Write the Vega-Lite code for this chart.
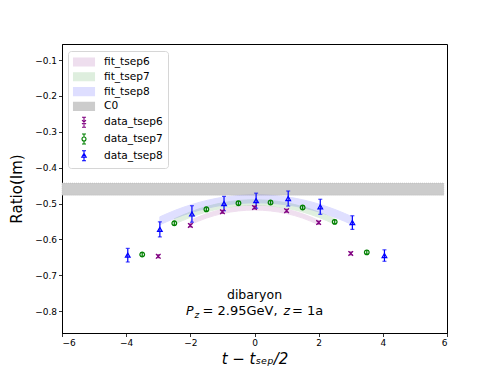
{
  "$schema": "https://vega.github.io/schema/vega-lite/v6.json",
  "width": 385,
  "height": 289,
  "autosize": "none",
  "padding": {"left": 62, "top": 44, "right": 51, "bottom": 41},
  "background": "white",
  "config": {
    "view": {"stroke": "black", "strokeWidth": 1},
    "font": "DejaVu Sans",
    "axis": {
      "domainColor": "black", "tickColor": "black", "labelColor": "black", "titleColor": "black",
      "grid": false, "labelFont": "DejaVu Sans", "titleFont": "DejaVu Sans",
      "labelFontSize": 9, "titleFontSize": 15, "titleFontWeight": "normal",
      "tickSize": 3.5, "domainWidth": 1, "tickWidth": 0.8, "labelPadding": 2
    }
  },
  "datasets": {
    "fits": [
      {"series": "fit_tsep6", "t": -2.0, "lo": -0.559, "hi": -0.547},
      {"series": "fit_tsep6", "t": -1.5, "lo": -0.5405, "hi": -0.5285},
      {"series": "fit_tsep6", "t": -1.0, "lo": -0.528, "hi": -0.516},
      {"series": "fit_tsep6", "t": -0.5, "lo": -0.5205, "hi": -0.5085},
      {"series": "fit_tsep6", "t": 0.0, "lo": -0.518, "hi": -0.506},
      {"series": "fit_tsep6", "t": 0.5, "lo": -0.5205, "hi": -0.5085},
      {"series": "fit_tsep6", "t": 1.0, "lo": -0.528, "hi": -0.516},
      {"series": "fit_tsep6", "t": 1.5, "lo": -0.5405, "hi": -0.5285},
      {"series": "fit_tsep6", "t": 2.0, "lo": -0.559, "hi": -0.547},
      {"series": "fit_tsep7", "t": -2.5, "lo": -0.5575, "hi": -0.5425},
      {"series": "fit_tsep7", "t": -2.0, "lo": -0.5385, "hi": -0.5235},
      {"series": "fit_tsep7", "t": -1.5, "lo": -0.5235, "hi": -0.5085},
      {"series": "fit_tsep7", "t": -1.0, "lo": -0.513, "hi": -0.498},
      {"series": "fit_tsep7", "t": -0.5, "lo": -0.5065, "hi": -0.4915},
      {"series": "fit_tsep7", "t": 0.0, "lo": -0.5045, "hi": -0.4895},
      {"series": "fit_tsep7", "t": 0.5, "lo": -0.5065, "hi": -0.4915},
      {"series": "fit_tsep7", "t": 1.0, "lo": -0.513, "hi": -0.498},
      {"series": "fit_tsep7", "t": 1.5, "lo": -0.5235, "hi": -0.5085},
      {"series": "fit_tsep7", "t": 2.0, "lo": -0.5385, "hi": -0.5235},
      {"series": "fit_tsep7", "t": 2.5, "lo": -0.5575, "hi": -0.5425},
      {"series": "fit_tsep8", "t": -2.95, "lo": -0.559, "hi": -0.537},
      {"series": "fit_tsep8", "t": -2.45, "lo": -0.540, "hi": -0.518},
      {"series": "fit_tsep8", "t": -1.95, "lo": -0.5246, "hi": -0.5026},
      {"series": "fit_tsep8", "t": -1.45, "lo": -0.5125, "hi": -0.4905},
      {"series": "fit_tsep8", "t": -0.95, "lo": -0.504, "hi": -0.482},
      {"series": "fit_tsep8", "t": -0.45, "lo": -0.4995, "hi": -0.4775},
      {"series": "fit_tsep8", "t": 0.05, "lo": -0.498, "hi": -0.476},
      {"series": "fit_tsep8", "t": 0.55, "lo": -0.4995, "hi": -0.4775},
      {"series": "fit_tsep8", "t": 1.05, "lo": -0.504, "hi": -0.482},
      {"series": "fit_tsep8", "t": 1.55, "lo": -0.5125, "hi": -0.4905},
      {"series": "fit_tsep8", "t": 2.05, "lo": -0.5246, "hi": -0.5026},
      {"series": "fit_tsep8", "t": 2.55, "lo": -0.540, "hi": -0.518},
      {"series": "fit_tsep8", "t": 3.05, "lo": -0.559, "hi": -0.537}
    ],
    "points": [
      {"series": "data_tsep6", "t": -3, "y": -0.647, "lo": -0.651, "hi": -0.643},
      {"series": "data_tsep6", "t": -2, "y": -0.561, "lo": -0.565, "hi": -0.557},
      {"series": "data_tsep6", "t": -1, "y": -0.523, "lo": -0.527, "hi": -0.519},
      {"series": "data_tsep6", "t": 0, "y": -0.511, "lo": -0.515, "hi": -0.507},
      {"series": "data_tsep6", "t": 1, "y": -0.520, "lo": -0.524, "hi": -0.516},
      {"series": "data_tsep6", "t": 2, "y": -0.553, "lo": -0.557, "hi": -0.549},
      {"series": "data_tsep6", "t": 3, "y": -0.639, "lo": -0.643, "hi": -0.635},
      {"series": "data_tsep7", "t": -3.5, "y": -0.642, "lo": -0.647, "hi": -0.637},
      {"series": "data_tsep7", "t": -2.5, "y": -0.555, "lo": -0.560, "hi": -0.550},
      {"series": "data_tsep7", "t": -1.5, "y": -0.516, "lo": -0.521, "hi": -0.511},
      {"series": "data_tsep7", "t": -0.5, "y": -0.499, "lo": -0.504, "hi": -0.494},
      {"series": "data_tsep7", "t": 0.5, "y": -0.497, "lo": -0.502, "hi": -0.492},
      {"series": "data_tsep7", "t": 1.5, "y": -0.511, "lo": -0.516, "hi": -0.506},
      {"series": "data_tsep7", "t": 2.5, "y": -0.551, "lo": -0.556, "hi": -0.546},
      {"series": "data_tsep7", "t": 3.5, "y": -0.636, "lo": -0.641, "hi": -0.631},
      {"series": "data_tsep8", "t": -3.95, "y": -0.644, "lo": -0.663, "hi": -0.625},
      {"series": "data_tsep8", "t": -2.95, "y": -0.572, "lo": -0.593, "hi": -0.551},
      {"series": "data_tsep8", "t": -1.95, "y": -0.529, "lo": -0.552, "hi": -0.506},
      {"series": "data_tsep8", "t": -0.95, "y": -0.500, "lo": -0.520, "hi": -0.480},
      {"series": "data_tsep8", "t": 0.05, "y": -0.492, "lo": -0.513, "hi": -0.471},
      {"series": "data_tsep8", "t": 1.05, "y": -0.486, "lo": -0.507, "hi": -0.465},
      {"series": "data_tsep8", "t": 2.05, "y": -0.509, "lo": -0.530, "hi": -0.488},
      {"series": "data_tsep8", "t": 3.05, "y": -0.553, "lo": -0.572, "hi": -0.534},
      {"series": "data_tsep8", "t": 4.05, "y": -0.645, "lo": -0.661, "hi": -0.629}
    ],
    "c0": [{"series": "C0", "t0": -6, "t1": 5.9, "lo": -0.4765, "hi": -0.443}]
  },
  "layer": [
    {
      "data": {"name": "c0"},
      "mark": {"type": "rect", "opacity": 1, "stroke": "#b5b5b5", "strokeWidth": 0.6, "strokeDash": [1, 1]},
      "encoding": {
        "x": {"field": "t0", "type": "quantitative", "scale": {"domain": [-6, 6], "nice": false, "zero": false},
              "axis": {"values": [-6, -4, -2, 0, 2, 4, 6], "format": "d", "title": "t − tₛₑₚ/2", "titleFontStyle": "italic", "titlePadding": 4}},
        "x2": {"field": "t1"},
        "y": {"field": "lo", "type": "quantitative", "scale": {"domain": [-0.861, -0.055], "nice": false, "zero": false},
              "axis": {"values": [-0.8, -0.7, -0.6, -0.5, -0.4, -0.3, -0.2, -0.1], "format": ".1f", "title": "Ratio(Im)", "titlePadding": 10}},
        "y2": {"field": "hi"},
        "color": {
          "field": "series", "type": "nominal",
          "scale": {
            "domain": ["fit_tsep6", "fit_tsep7", "fit_tsep8", "C0", "data_tsep6", "data_tsep7", "data_tsep8"],
            "range": ["#eedeee", "#deeede", "#deDEff", "#cccccc", "purple", "green", "blue"]
          },
          "legend": {
            "title": null, "orient": "none", "legendX": 6, "legendY": 7, "direction": "vertical",
            "labelFont": "DejaVu Sans", "labelFontSize": 10.6, "labelColor": "black",
            "symbolSize": 100, "rowPadding": 0.8, "labelOffset": 14, "padding": 5, "symbolOffset": 5,
            "strokeColor": "#d6d6d6", "fillColor": "rgba(255,255,255,0.8)", "cornerRadius": 3,
            "symbolOpacity": 1,
            "encoding": {
              "symbols": {
                "shape": {"value": {"expr": "datum.value == 'C0' || datum.value == 'fit_tsep6' || datum.value == 'fit_tsep7' || datum.value == 'fit_tsep8' ? 'M-2.1,-0.8H2.1V0.8H-2.1Z' : datum.value == 'data_tsep6' ? 'M0,-1V1M-0.4,-1H0.4M-0.4,1H0.4M-0.4,-0.4L0.4,0.4M-0.4,0.4L0.4,-0.4' : datum.value == 'data_tsep7' ? 'M0,-1V-0.4M0,0.4V1M-0.4,-1H0.4M-0.4,1H0.4M0.4,0A0.4,0.4 0 1 1 -0.4,0A0.4,0.4 0 1 1 0.4,0' : 'M0,-1V1M-0.4,-1H0.4M-0.4,1H0.4M0,-0.5L0.45,0.3L-0.45,0.3Z'"}},
                "fillOpacity": {"value": {"expr": "datum.value == 'data_tsep6' || datum.value == 'data_tsep7' || datum.value == 'data_tsep8' ? 0 : 1"}},
                "stroke": {"value": {"expr": "datum.value == 'fit_tsep6' ? '#e2cce2' : datum.value == 'fit_tsep7' ? '#cce2cc' : datum.value == 'fit_tsep8' ? '#ccccff' : datum.value == 'C0' ? '#a0a0a0' : datum.value == 'data_tsep6' ? 'purple' : datum.value == 'data_tsep7' ? 'green' : 'blue'"}},
                "strokeWidth": {"value": 1.1},
                "opacity": {"value": 1},
                "strokeOpacity": {"value": 1}
              }
            }
          }
        }
      }
    },
    {
      "data": {"name": "fits"},
      "mark": {"type": "area", "opacity": 0.12, "interpolate": "monotone", "strokeWidth": 1},
      "encoding": {
        "x": {"field": "t", "type": "quantitative"},
        "y": {"field": "lo", "type": "quantitative"},
        "y2": {"field": "hi"},
        "fill": {"field": "series", "type": "nominal", "legend": null,
                 "scale": {"domain": ["fit_tsep6", "fit_tsep7", "fit_tsep8"], "range": ["purple", "green", "blue"]}},
        "stroke": {"field": "series", "type": "nominal", "legend": null,
                   "scale": {"domain": ["fit_tsep6", "fit_tsep7", "fit_tsep8"], "range": ["purple", "green", "blue"]}}
      }
    },
    {
      "data": {"name": "points"},
      "mark": {"type": "rule", "strokeWidth": 1.2},
      "encoding": {
        "x": {"field": "t", "type": "quantitative"},
        "y": {"field": "lo", "type": "quantitative"},
        "y2": {"field": "hi"},
        "color": {"field": "series", "type": "nominal"}
      }
    },
    {
      "data": {"name": "points"},
      "mark": {"type": "tick", "orient": "horizontal", "size": 4, "thickness": 1.2},
      "encoding": {
        "x": {"field": "t", "type": "quantitative"},
        "y": {"field": "lo", "type": "quantitative"},
        "color": {"field": "series", "type": "nominal"}
      }
    },
    {
      "data": {"name": "points"},
      "mark": {"type": "tick", "orient": "horizontal", "size": 4, "thickness": 1.2},
      "encoding": {
        "x": {"field": "t", "type": "quantitative"},
        "y": {"field": "hi", "type": "quantitative"},
        "color": {"field": "series", "type": "nominal"}
      }
    },
    {
      "data": {"name": "points"},
      "mark": {"type": "point", "filled": false, "strokeWidth": 1.2, "size": 22, "opacity": 1},
      "encoding": {
        "x": {"field": "t", "type": "quantitative"},
        "y": {"field": "y", "type": "quantitative"},
        "color": {"field": "series", "type": "nominal"},
        "shape": {
          "field": "series", "type": "nominal", "legend": null,
          "scale": {"domain": ["data_tsep6", "data_tsep7", "data_tsep8"], "range": ["M-1,-1L1,1M-1,1L1,-1", "circle", "triangle-up"]}
        }
      }
    },
    {
      "data": {"values": [{"t": 0, "y": -0.767, "label": "dibaryon"}]},
      "mark": {"type": "text", "fontSize": 12.5, "align": "center", "baseline": "alphabetic", "color": "black"},
      "encoding": {"x": {"field": "t", "type": "quantitative"}, "y": {"field": "y", "type": "quantitative"}, "text": {"field": "label"}}
    },
    {
      "data": {"values": [{"t": 0, "y": -0.811, "label": "P"}]},
      "mark": {"type": "text", "fontSize": 12.5, "fontStyle": "italic", "align": "left", "baseline": "alphabetic", "dx": -68.5, "color": "black"},
      "encoding": {"x": {"field": "t", "type": "quantitative"}, "y": {"field": "y", "type": "quantitative"}, "text": {"field": "label"}}
    },
    {
      "data": {"values": [{"t": 0, "y": -0.811, "label": "z"}]},
      "mark": {"type": "text", "fontSize": 9, "fontStyle": "italic", "align": "left", "baseline": "alphabetic", "dx": -60, "dy": 2.5, "color": "black"},
      "encoding": {"x": {"field": "t", "type": "quantitative"}, "y": {"field": "y", "type": "quantitative"}, "text": {"field": "label"}}
    },
    {
      "data": {"values": [{"t": 0, "y": -0.811, "label": "= 2.95GeV,"}]},
      "mark": {"type": "text", "fontSize": 13, "align": "left", "baseline": "alphabetic", "dx": -52, "color": "black"},
      "encoding": {"x": {"field": "t", "type": "quantitative"}, "y": {"field": "y", "type": "quantitative"}, "text": {"field": "label"}}
    },
    {
      "data": {"values": [{"t": 0, "y": -0.811, "label": "z"}]},
      "mark": {"type": "text", "fontSize": 12.5, "fontStyle": "italic", "align": "left", "baseline": "alphabetic", "dx": 29, "color": "black"},
      "encoding": {"x": {"field": "t", "type": "quantitative"}, "y": {"field": "y", "type": "quantitative"}, "text": {"field": "label"}}
    },
    {
      "data": {"values": [{"t": 0, "y": -0.811, "label": "= 1a"}]},
      "mark": {"type": "text", "fontSize": 13, "align": "left", "baseline": "alphabetic", "dx": 37.5, "color": "black"},
      "encoding": {"x": {"field": "t", "type": "quantitative"}, "y": {"field": "y", "type": "quantitative"}, "text": {"field": "label"}}
    }
  ]
}
